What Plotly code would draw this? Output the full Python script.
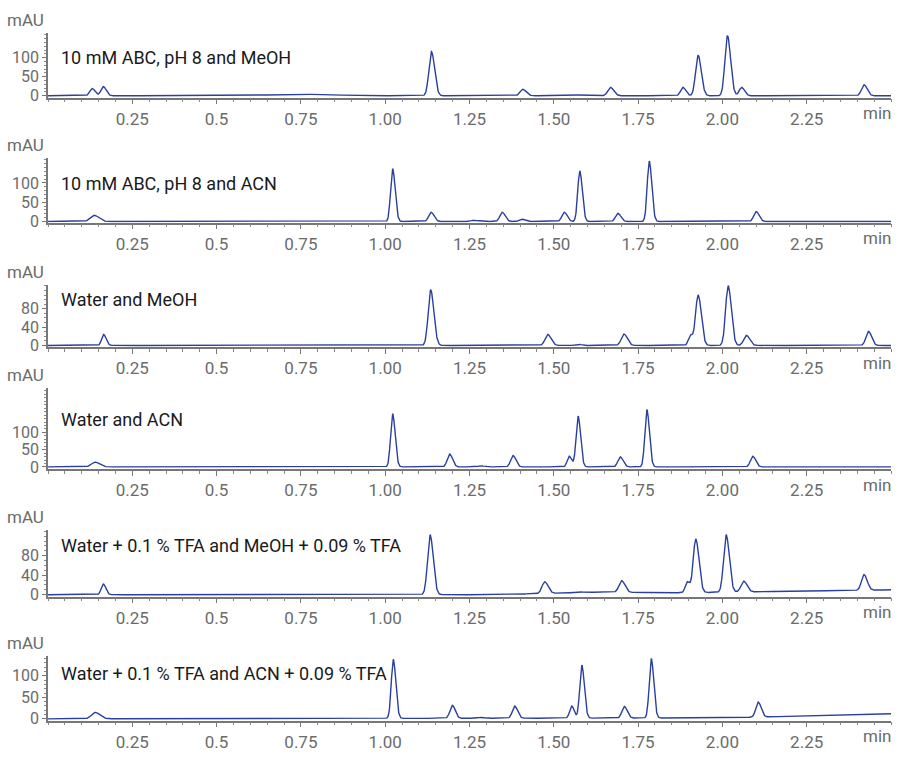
import numpy as np
import plotly.graph_objects as go

# ---------------- data ----------------
labels = [
    "10 mM ABC, pH 8 and MeOH",
    "10 mM ABC, pH 8 and ACN",
    "Water and MeOH",
    "Water and ACN",
    "Water + 0.1 % TFA and MeOH + 0.09 % TFA",
    "Water + 0.1 % TFA and ACN + 0.09 % TFA",
]

x_ticks = [0.25, 0.5, 0.75, 1.00, 1.25, 1.50, 1.75, 2.00, 2.25]
x_tick_text = ["0.25", "0.5", "0.75", "1.00", "1.25", "1.50", "1.75", "2.00", "2.25"]

# peak tables: retention time (min), height (mAU), width (sigma, min)
rt1 = [0.131, 0.164, 0.74, 1.137, 1.408, 1.57, 1.668, 1.883, 1.928, 2.015, 2.057, 2.42]
h1 = [19, 24, 4, 116, 17, 2, 22, 22, 106, 158, 22, 29]
w1 = [0.007, 0.007, 0.08, 0.0075, 0.008, 0.01, 0.008, 0.007, 0.0075, 0.0075, 0.007, 0.0075]

rt2 = [0.137, 1.022, 1.136, 1.262, 1.285, 1.347, 1.404, 1.531, 1.577, 1.69, 1.783, 2.10]
h2 = [16, 137, 24, 3, 2, 24, 6, 24, 131, 21, 157, 26]
w2 = [0.011, 0.006, 0.007, 0.008, 0.008, 0.007, 0.007, 0.007, 0.006, 0.007, 0.006, 0.007]

rt3 = [0.165, 1.135, 1.482, 1.57, 1.708, 1.905, 1.928, 2.017, 2.071, 2.433]
h3 = [24, 121, 24, 3, 25, 22, 110, 130, 22, 31]
w3 = [0.006, 0.0075, 0.008, 0.008, 0.008, 0.006, 0.0075, 0.0075, 0.008, 0.0075]

rt4 = [0.14, 1.022, 1.191, 1.283, 1.379, 1.546, 1.572, 1.697, 1.776, 2.09, 2.42]
h4 = [14, 154, 37, 3, 33, 31, 147, 29, 166, 31, 2]
w4 = [0.011, 0.006, 0.007, 0.008, 0.007, 0.006, 0.006, 0.007, 0.006, 0.007, 0.008]

rt5 = [0.164, 1.133, 1.473, 1.57, 1.701, 1.896, 1.921, 2.011, 2.063, 2.42]
h5 = [22, 123, 24, 2, 24, 22, 110, 118, 22, 32]
w5 = [0.006, 0.0075, 0.008, 0.008, 0.008, 0.006, 0.0075, 0.0075, 0.008, 0.0075]

rt6 = [0.14, 1.024, 1.199, 1.285, 1.384, 1.553, 1.583, 1.709, 1.789, 2.106]
h6 = [15, 137, 30, 2, 28, 28, 123, 27, 138, 35]
w6 = [0.011, 0.006, 0.007, 0.008, 0.007, 0.006, 0.006, 0.007, 0.006, 0.007]

# baseline drift (time, mAU)
base_t5 = [0.0, 1.30, 1.45, 1.60, 1.90, 2.10, 2.50]
base_v5 = [0.0, 0.0, 2.0, 5.0, 4.0, 6.0, 10.0]
base_t6 = [0.0, 1.80, 2.10, 2.50]
base_v6 = [0.0, 2.0, 4.0, 12.0]

y_tick_vals = [[0, 50, 100], [0, 50, 100], [0, 40, 80], [0, 50, 100], [0, 40, 80], [0, 50, 100]]
y_ranges = [[-5, 166], [-3, 164], [-4, 132], [-6, 229], [-4, 132], [-4, 146]]

# ---------------- layout geometry (pixels) ----------------
W, H = 906, 757
X0, X1 = 48, 891
tops = [33, 160, 288, 392, 536, 663]
bots = [98.7, 225, 351, 474, 603, 728.3]
label_y = [58, 185, 303, 424, 551, 681]

FONT = "Roboto, Liberation Sans, sans-serif"
GRAY = "#6b6b6b"
LINE = "#2b3f9e"

t = np.linspace(0, 2.5, 2501)


def trace_from(rt, h, w, bt=None, bv=None):
    y = np.zeros_like(t)
    for r, hh, ww in zip(rt, h, w):
        s = np.where(t < r, ww, ww * 1.25)
        y += hh * np.exp(-0.5 * ((t - r) / s) ** 2)
    if bt is not None:
        y += np.interp(t, bt, bv)
    return y


series = [
    trace_from(rt1, h1, w1),
    trace_from(rt2, h2, w2),
    trace_from(rt3, h3, w3),
    trace_from(rt4, h4, w4),
    trace_from(rt5, h5, w5, base_t5, base_v5),
    trace_from(rt6, h6, w6, base_t6, base_v6),
]

fig = go.Figure()
annotations = []
layout = dict(
    width=W, height=H,
    margin=dict(l=0, r=0, t=0, b=0),
    paper_bgcolor="white", plot_bgcolor="white",
    showlegend=False,
    font=dict(family=FONT, size=17, color=GRAY),
)

for i in range(6):
    xa = "xaxis" if i == 0 else f"xaxis{i+1}"
    ya = "yaxis" if i == 0 else f"yaxis{i+1}"
    xr = "x" if i == 0 else f"x{i+1}"
    yr = "y" if i == 0 else f"y{i+1}"
    fig.add_trace(go.Scatter(x=t, y=series[i], mode="lines",
                             line=dict(color=LINE, width=1.4),
                             xaxis=xr, yaxis=yr, hoverinfo="skip"))
    ydom = [1 - bots[i] / H, 1 - tops[i] / H]
    layout[xa] = dict(
        domain=[X0 / W, X1 / W], range=[0, 2.5], anchor=yr,
        tickmode="array", tickvals=x_ticks, ticktext=x_tick_text,
        ticks="outside", ticklen=5, tickwidth=1.2, tickcolor="#777",
        showline=True, linecolor="#777", linewidth=1.5,
        showgrid=False, zeroline=False,
        tickfont=dict(family=FONT, size=17, color=GRAY),
        minor=dict(ticks="outside", dtick=0.05, tick0=0, ticklen=3,
                   tickwidth=1, tickcolor="#888", showgrid=False),
        fixedrange=True,
    )
    layout[ya] = dict(
        domain=ydom, range=y_ranges[i], anchor=xr,
        tickmode="array", tickvals=y_tick_vals[i],
        ticktext=[str(v) for v in y_tick_vals[i]],
        ticks="outside", ticklen=4, tickwidth=1.2, tickcolor="#777",
        showline=True, linecolor="#777", linewidth=1.5,
        showgrid=False, zeroline=False,
        tickfont=dict(family=FONT, size=16, color=GRAY),
        minor=dict(ticks="outside", dtick=10, tick0=0, ticklen=2,
                   tickwidth=1, tickcolor="#888", showgrid=False),
        fixedrange=True,
    )
    # mAU unit label
    annotations.append(dict(
        text="mAU", xref="paper", yref="paper",
        x=25 / W, y=1 - (tops[i] - 13) / H, xanchor="center", yanchor="middle",
        showarrow=False, font=dict(family=FONT, size=17, color=GRAY)))
    # min unit label
    annotations.append(dict(
        text="min", xref="paper", yref="paper",
        x=877 / W, y=1 - (bots[i] + 16) / H, xanchor="center", yanchor="middle",
        showarrow=False, font=dict(family=FONT, size=17, color=GRAY)))
    # sample label
    annotations.append(dict(
        text=labels[i], xref="paper", yref="paper",
        x=59 / W, y=1 - label_y[i] / H,
        xanchor="left", yanchor="middle",
        showarrow=False, font=dict(family=FONT, size=18, color="#1a1a1a")))

layout["annotations"] = annotations
fig.update_layout(**layout)
fig.write_html("out.html")
